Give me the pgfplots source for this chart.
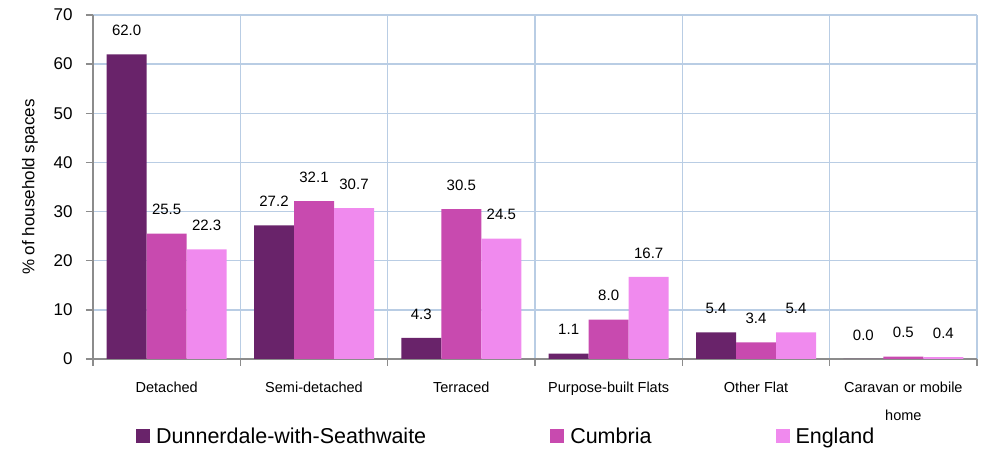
\documentclass[border=0pt]{standalone}
\usepackage{pgfplots}
\pgfplotsset{compat=1.18}
\usepackage{fontspec}
\setmainfont{Liberation Sans}

\definecolor{cDun}{HTML}{69236A}
\definecolor{cCum}{HTML}{C84AAF}
\definecolor{cEng}{HTML}{F08AEE}
\definecolor{gridblue}{HTML}{B9CDE4}
\definecolor{axisgray}{HTML}{8C8C8C}

\begin{document}
\begin{tikzpicture}
\path[use as bounding box] (-93pt,-90pt) rectangle (894pt,359pt);
\begin{axis}[
    scale only axis,
    width=884pt, height=344pt,
    at={(0pt,0pt)}, anchor=south west,
    ybar=0pt, bar width=40pt,
    xmin=-0.5, xmax=5.5,
    ymin=0, ymax=70,
    ytick={0,10,...,70},
    xtick={-0.5,0.5,...,5.5},
    xticklabels={,,,,,,},
    extra x ticks={0,1,2,3,4,5},
    extra x tick labels={Detached,Semi-detached,Terraced,Purpose-built Flats,Other Flat,{Caravan or mobile\\home}},
    extra x tick style={major tick length=0pt, grid=none},
    xmajorgrids, ymajorgrids,
    grid style={draw=gridblue, line width=1.3pt},
    axis x line*=bottom, axis y line*=left,
    axis line style={draw=axisgray, line width=1.5pt},
    tick style={draw=axisgray, line width=1.3pt},
    tick align=outside, major tick length=7pt,
    /pgf/number format/assume math mode=true,
    yticklabel style={font=\fontsize{17}{20}\selectfont, xshift=-10pt},
    xticklabel style={font=\fontsize{14.5}{28}\selectfont, align=center, yshift=-19pt},
    ylabel={\% of household spaces},
    ylabel style={font=\fontsize{17}{20}\selectfont, at={(axis description cs:0,0.5)}, anchor=center, yshift=63pt},
    nodes near coords={\pgfmathprintnumber[fixed,fixed zerofill,precision=1]{\pgfplotspointmeta}},
    every node near coord/.append style={font=\fontsize{15}{18}\selectfont, anchor=center, yshift=24pt, black},
    legend columns=3,
    legend style={draw=none, fill=none, inner sep=0pt, font=\fontsize{21.5}{24}\selectfont,
        at={(axis description cs:0.0486,-0.224)}, anchor=west,
        /tikz/every odd column/.append style={column sep=4pt},
        /tikz/every even column/.append style={column sep=122pt}},
    legend image code/.code={\fill[#1] (0pt,-7pt) rectangle (14pt,7pt);},
]
\addplot[fill=cDun, draw=none] coordinates {(0,62.0) (1,27.2) (2,4.3) (3,1.1) (4,5.4) (5,0.0)};
\addlegendentry{Dunnerdale-with-Seathwaite}
\addplot[fill=cCum, draw=none] coordinates {(0,25.5) (1,32.1) (2,30.5) (3,8.0) (4,3.4) (5,0.5)};
\addlegendentry{Cumbria}
\addplot[fill=cEng, draw=none] coordinates {(0,22.3) (1,30.7) (2,24.5) (3,16.7) (4,5.4) (5,0.4)};
\addlegendentry{England}
\end{axis}
\end{tikzpicture}
\end{document}
